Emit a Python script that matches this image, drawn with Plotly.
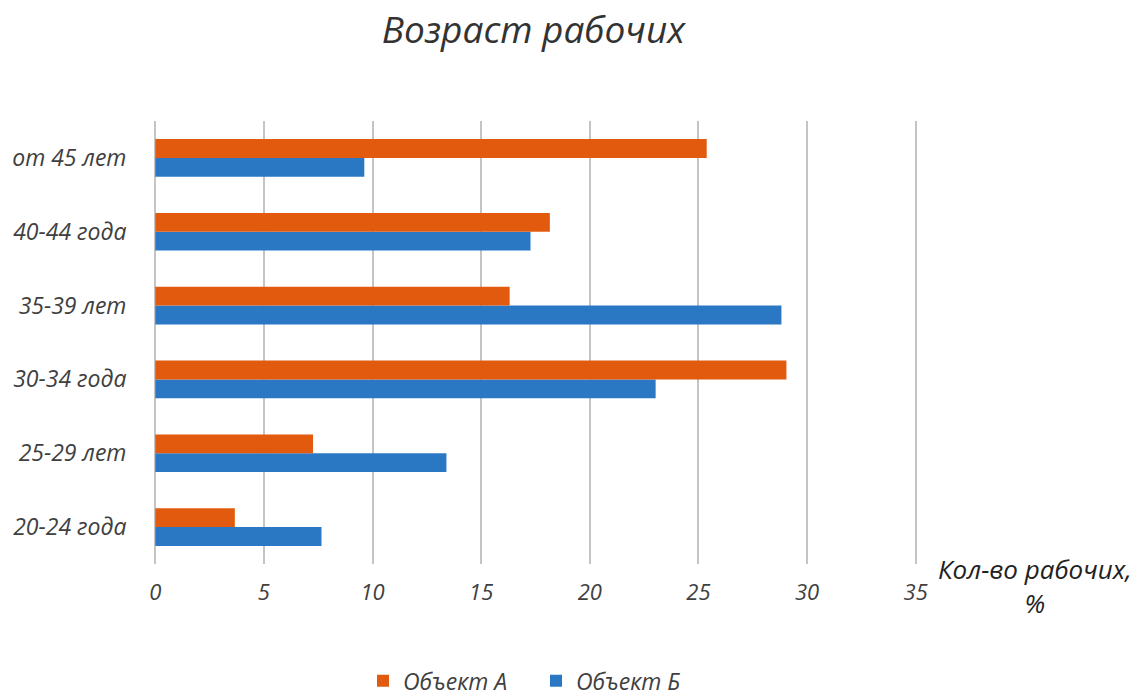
import plotly.graph_objects as go

# Age groups, listed bottom to top
categories = ["20-24 года", "25-29 лет", "30-34 года", "35-39 лет", "40-44 года", "от 45 лет"]
object_a = [3.66, 7.26, 29.05, 16.31, 18.16, 25.38]
object_b = [7.65, 13.4, 23.03, 28.82, 17.27, 9.62]
x_ticks = [0, 5, 10, 15, 20, 25, 30, 35]

ORANGE = "#E15A0E"
BLUE = "#2A78C4"
TEXT = "#404040"
FONT = "Open Sans"

fig = go.Figure()
# Blue first so that in each horizontal group the orange bar sits above it
fig.add_trace(go.Bar(y=categories, x=object_b, name="Объект Б", orientation="h",
                     marker=dict(color=BLUE, line=dict(width=0))))
fig.add_trace(go.Bar(y=categories, x=object_a, name="Объект А", orientation="h",
                     marker=dict(color=ORANGE, line=dict(width=0))))

fig.update_layout(
    width=1147, height=696,
    paper_bgcolor="white", plot_bgcolor="white",
    margin=dict(l=154, r=230, t=121, b=132, autoexpand=False),
    barmode="group", bargap=0.49, bargroupgap=0,
    title=dict(text="Возраст рабочих", x=0.465, xanchor="center", y=0.957, yanchor="middle",
               font=dict(family=FONT, size=37, color="#333333", style="italic")),
    legend=dict(orientation="h", traceorder="reversed", x=363 / 1147, xanchor="left",
                xref="container", yref="container", y=0.022, yanchor="middle",
                font=dict(family=FONT, size=23, color=TEXT, style="italic"),
                itemwidth=30, itemsizing="constant",
                entrywidth=128, entrywidthmode="pixels"),
    xaxis=dict(range=[-0.06, 35.06], tickvals=x_ticks, showgrid=True, gridcolor="#C4C4C4",
               gridwidth=2, zeroline=False, showline=False, automargin=False,
               ticks="outside", ticklen=9, tickcolor="rgba(0,0,0,0)",
               tickfont=dict(family=FONT, size=22, color=TEXT, style="italic")),
    yaxis=dict(categoryorder="array", categoryarray=categories, showgrid=False,
               zeroline=False, showline=False, ticks="outside", ticklen=22,
               tickcolor="rgba(0,0,0,0)", automargin=False,
               tickfont=dict(family=FONT, size=23, color=TEXT, style="italic")),
    showlegend=True,
)

fig.add_annotation(text="Кол-во рабочих,<br>%", xref="paper", yref="paper",
                   x=1.155, y=-0.05, xanchor="center", yanchor="middle",
                   showarrow=False, align="center",
                   font=dict(family=FONT, size=26, color="#222222", style="italic"))

fig.write_html("out.html")
